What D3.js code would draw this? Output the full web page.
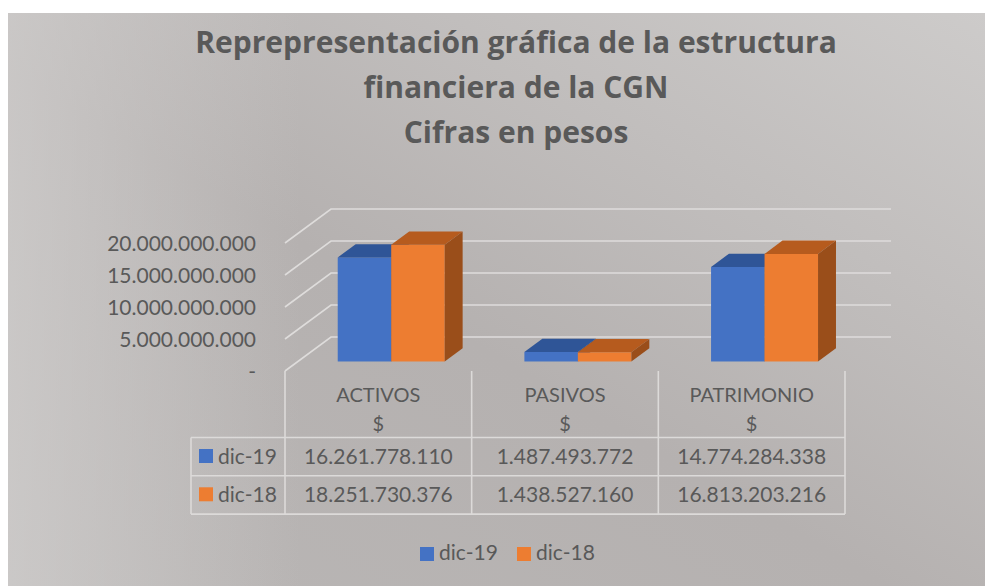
<!DOCTYPE html>
<html><head><meta charset="utf-8">
<script src="https://cdn.jsdelivr.net/npm/d3@7"></script>
<style>
body{margin:0;background:#fff}
svg{display:block}
text{font-family:Lato,"Open Sans",sans-serif;fill:#595959}
</style>
</head><body>
<svg id="c" width="985" height="586"></svg>
<script>
// ---- data ----
const categories = ["ACTIVOS", "PASIVOS", "PATRIMONIO"];
const seriesNames = ["dic-19", "dic-18"];
const dic19 = [16261778110, 1487493772, 14774284338];
const dic18 = [18251730376, 1438527160, 16813203216];
const yTicks = [0, 5e9, 10e9, 15e9, 20e9];
const titleLines = ["Reprepresentación gráfica de la estructura", "financiera de la CGN", "Cifras en pesos"];
const currencyLabel = "$";

const seriesValues = [dic19, dic18];
const colors = ["#4472C4", "#ED7D31"];
const topColors = ["#2F5597", "#B65B1E"];
const sideColors = ["#2A4C87", "#9A4E1A"];

const svg = d3.select("#c");
const defs = svg.append("defs");

// background
const g1 = defs.append("linearGradient").attr("id","bg1").attr("x1","0").attr("y1","1").attr("x2","1").attr("y2","0");
g1.append("stop").attr("offset","0").attr("stop-color","#b9b6b5");
g1.append("stop").attr("offset","0.45").attr("stop-color","#b5b1b0");
g1.append("stop").attr("offset","1").attr("stop-color","#cdcbca");
const g2 = defs.append("linearGradient").attr("id","bg2").attr("x1","0").attr("y1","0").attr("x2","1").attr("y2","0");
g2.append("stop").attr("offset","0").attr("stop-color","#d2d0cf").attr("stop-opacity","0.7");
g2.append("stop").attr("offset","0.3").attr("stop-color","#d2d0cf").attr("stop-opacity","0");
g2.append("stop").attr("offset","1").attr("stop-color","#d2d0cf").attr("stop-opacity","0");
svg.append("rect").attr("x",8).attr("y",13).attr("width",977).attr("height",573).attr("fill","url(#bg1)");
svg.append("rect").attr("x",8).attr("y",13).attr("width",977).attr("height",573).attr("fill","url(#bg2)");

// title
svg.append("g").selectAll("text").data(titleLines).join("text")
  .attr("x", 516).attr("y", (d,i)=>53 + i*45)
  .attr("text-anchor","middle").attr("font-weight","bold").attr("font-size",30)
  .style("font-family","'Open Sans',Lato,sans-serif")
  .text(d=>d);

// scales
const plotLeft = 285, plotRight = 845;
const depth = {dx: 46, dy: -34};
const y = d3.scaleLinear().domain([0, 20e9]).range([371, 243]);
const x = d3.scaleBand().domain(categories).range([plotLeft, plotRight]);
const xs = d3.scaleBand().domain(seriesNames).range([0, x.bandwidth()]).paddingOuter(0.745);
const f0 = 0.28, f1 = 0.67;
const loc = d3.formatLocale({decimal: ",", thousands: ".", grouping: [3], currency: ["$", ""]});
const fmt = loc.format(",.0f");

// gridlines (side wall + back wall)
const grid = svg.append("g").attr("stroke","#dedcdb").attr("stroke-width",1.6).attr("fill","none");
yTicks.forEach(t=>{
  const yf = y(t);
  grid.append("path").attr("d",
    `M${plotLeft},${yf}L${plotLeft+depth.dx},${yf+depth.dy}L${plotRight+depth.dx},${yf+depth.dy}`);
});

// axis labels
svg.append("g").selectAll("text").data(yTicks).join("text")
  .attr("x",256).attr("y",t=>y(t)+8)
  .attr("text-anchor","end").attr("font-size",21)
  .text(t=> t===0 ? "-" : fmt(t));

// bars
const ox = f0*depth.dx, oy = f0*depth.dy;
const bdx = (f1-f0)*depth.dx, bdy = (f1-f0)*depth.dy;
const bars = svg.append("g");
categories.forEach((c,ci)=>{
  seriesNames.forEach((s,si)=>{
    const v = seriesValues[si][ci];
    const X0 = x(c)+xs(s)+ox, X1 = X0+xs.bandwidth();
    const T = y(v)+oy, B = y(0)+oy;
    bars.append("rect").attr("x",X0).attr("y",T).attr("width",X1-X0).attr("height",B-T).attr("fill",colors[si]);
    bars.append("path").attr("d",`M${X0},${T}L${X1},${T}L${X1+bdx},${T+bdy}L${X0+bdx},${T+bdy}Z`).attr("fill",topColors[si]);
    bars.append("path").attr("d",`M${X1},${T}L${X1+bdx},${T+bdy}L${X1+bdx},${B+bdy}L${X1},${B}Z`).attr("fill",sideColors[si]);
  });
});

// data table
const tbl = svg.append("g").attr("stroke","#dcdad9").attr("stroke-width",1.6).attr("fill","none");
const rowTop = 437.5, rowH = 38.3, tableLeft = 191;
categories.concat(["_end"]).forEach((c,i)=>{
  const xx = i<categories.length ? x(c) : plotRight;
  tbl.append("line").attr("x1",xx).attr("x2",xx).attr("y1",371).attr("y2",rowTop+2*rowH);
});
tbl.append("line").attr("x1",tableLeft).attr("x2",tableLeft).attr("y1",rowTop).attr("y2",rowTop+2*rowH);
[0,1,2].forEach(i=>{
  tbl.append("line").attr("x1",tableLeft).attr("x2",plotRight).attr("y1",rowTop+i*rowH).attr("y2",rowTop+i*rowH);
});

const head = svg.append("g");
categories.forEach(c=>{
  const cx = x(c)+x.bandwidth()/2;
  head.append("text").attr("x",cx).attr("y",402).attr("text-anchor","middle").attr("font-size",20).text(c);
  head.append("text").attr("x",cx).attr("y",431).attr("text-anchor","middle").attr("font-size",20).text(currencyLabel);
});
seriesNames.forEach((s,si)=>{
  const base = 464 + si*rowH;
  svg.append("rect").attr("x",199).attr("y",base-15).attr("width",14).attr("height",14).attr("fill",colors[si]);
  svg.append("text").attr("x",218).attr("y",base).attr("font-size",21).text(s);
  categories.forEach((c,ci)=>{
    svg.append("text").attr("x",x(c)+x.bandwidth()/2).attr("y",base).attr("text-anchor","middle")
      .attr("font-size",21).text(fmt(seriesValues[si][ci]));
  });
});

// legend
const legX = [420, 517];
seriesNames.forEach((s,si)=>{
  svg.append("rect").attr("x",legX[si]).attr("y",547).attr("width",14).attr("height",14).attr("fill",colors[si]);
  svg.append("text").attr("x",legX[si]+19).attr("y",560).attr("font-size",21).text(s);
});
</script>
</body></html>
